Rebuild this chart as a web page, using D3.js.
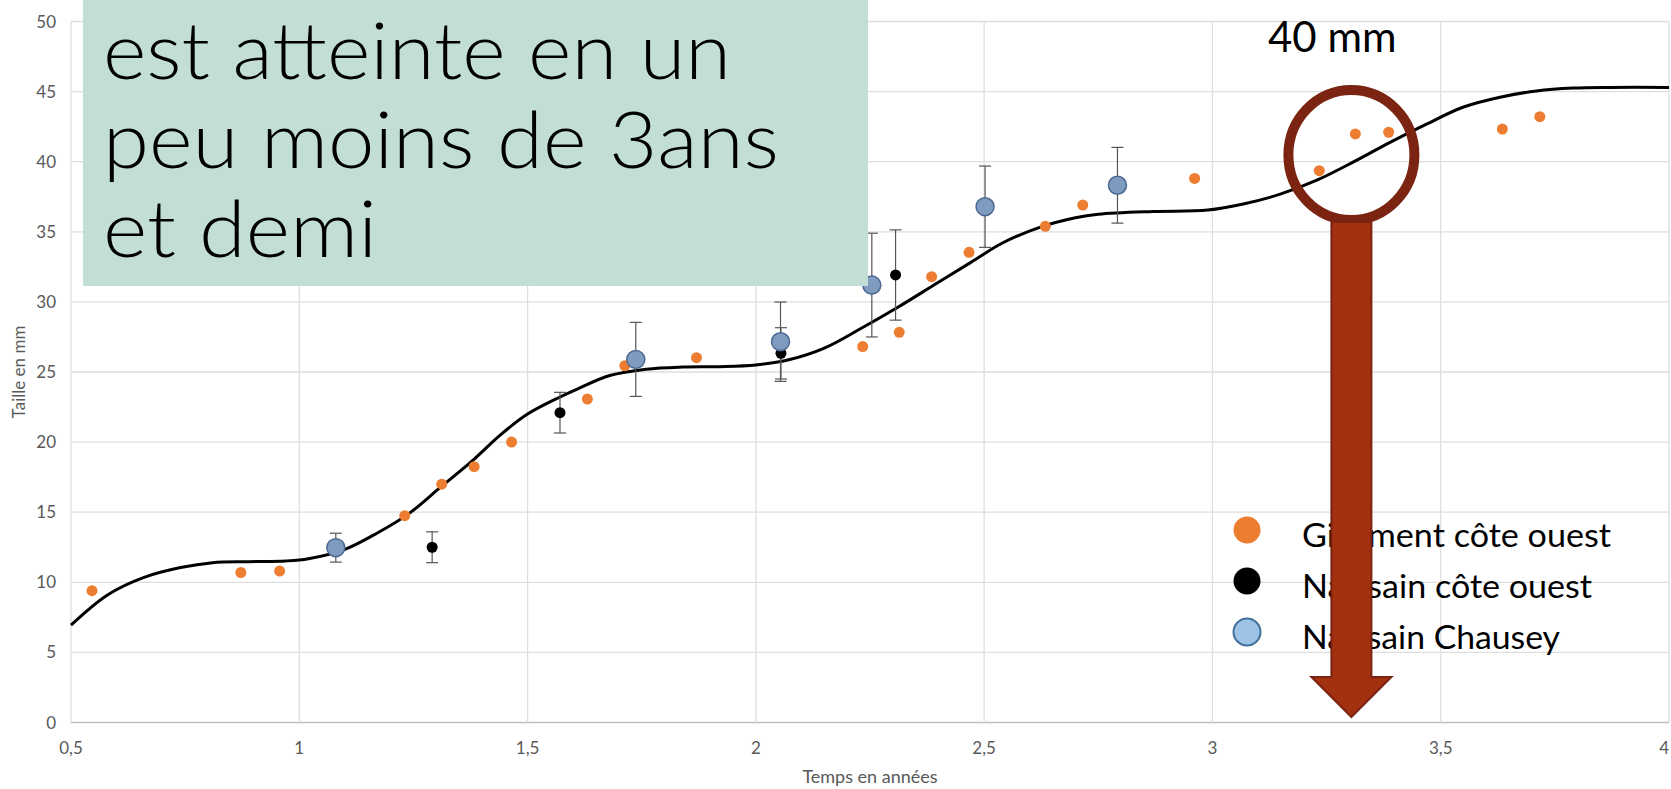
<!DOCTYPE html>
<html>
<head>
<meta charset="utf-8">
<script src="https://cdn.jsdelivr.net/npm/d3@7"></script>
<style>
body {margin: 0; background: #fff;}
svg {display: block;}
</style>
</head>
<body>
<div id="main"></div>
<script>
// Gisement côte ouest
var gisementAge = [0.546, 0.872, 0.957, 1.231, 1.312, 1.383, 1.465, 1.631, 1.713, 1.870, 2.234, 2.314,
    2.385, 2.467, 2.634, 2.716, 2.961, 3.234, 3.313, 3.386, 3.635, 3.717];
var gisementTaille = [9.4, 10.7, 10.8, 14.75, 17.0, 18.25, 20.0, 23.07, 25.45, 26.02, 26.81, 27.83,
    31.8, 33.54, 35.39, 36.91, 38.81, 39.36, 41.98, 42.1, 42.33, 43.21];

// Naissain côte ouest
var ouestAge = [1.291, 1.571, 2.055, 2.306];
var ouestTaille = [12.5, 22.1, 26.33, 31.92];
var ouestErr = [1.1, 1.45, 1.83, 3.22];

// Naissain Chausey
var chauseyAge = [1.080, 1.737, 2.054, 2.254, 2.502, 2.792];
var chauseyTaille = [12.47, 25.9, 27.16, 31.2, 36.79, 38.32];
var chauseyErr = [1.03, 2.64, 2.83, 3.7, 2.9, 2.7];

// courbe de croissance
var courbeAge = [0.50, 0.58, 0.66, 0.74, 0.81, 0.89, 0.97, 1.02, 1.10, 1.17, 1.24, 1.31, 1.38, 1.44,
    1.50, 1.57, 1.61, 1.68, 1.76, 1.84, 1.92, 2.00, 2.07, 2.15, 2.23, 2.31, 2.39, 2.47, 2.54, 2.62,
    2.70, 2.75, 2.87, 2.99, 3.07, 3.15, 3.23, 3.31, 3.39, 3.47, 3.55, 3.63, 3.71, 3.79, 3.87, 4.00];
var courbeTaille = [6.95, 9.1, 10.35, 11.05, 11.4, 11.47, 11.52, 11.68, 12.35, 13.5, 14.9, 16.8, 18.7, 20.5,
    22.0, 23.2, 23.8, 24.75, 25.2, 25.35, 25.38, 25.5, 25.85, 26.7, 28.1, 29.6, 31.2, 32.8, 34.2, 35.3,
    36.0, 36.25, 36.45, 36.55, 37.0, 37.7, 38.7, 40.0, 41.4, 42.7, 43.9, 44.6, 45.05, 45.25, 45.3, 45.3];

var xTicks = [0.5, 1, 1.5, 2, 2.5, 3, 3.5, 4];
var xTickLabels = ['0,5', '1', '1,5', '2', '2,5', '3', '3,5', '4'];
var yTicks = [0, 5, 10, 15, 20, 25, 30, 35, 40, 45, 50];

var legendLabels = ['Gisement côte ouest', 'Naissain côte ouest', 'Naissain Chausey'];
var boxLines = ['est atteinte en un', 'peu moins de 3ans', 'et demi'];
var noteText = '40 mm';
var noteAge = 3.3;   // repère entouré

var width = 1671, height = 789;
var margin = {top: 21.5, bottom: 66.5, left: 71, right: 2};
var font = 'Lato, "Open Sans", sans-serif';

var svg = d3.select('#main').append('svg')
    .attr('width', width)
    .attr('height', height);

var x = d3.scaleLinear()
    .domain([0.5, 4])
    .range([margin.left, width - margin.right]);
var y = d3.scaleLinear()
    .domain([0, 50])
    .range([height - margin.bottom, margin.top]);

// grid
svg.append('g').selectAll('line')
    .data(yTicks)
    .enter().append('line')
    .attr('x1', x(0.5)).attr('x2', x(4))
    .attr('y1', d => y(d)).attr('y2', d => y(d))
    .attr('stroke', d => d === 0 ? '#bfbfbf' : '#dedede')
    .attr('stroke-width', 1.3);
svg.append('g').selectAll('line')
    .data(xTicks)
    .enter().append('line')
    .attr('x1', d => x(d)).attr('x2', d => x(d))
    .attr('y1', y(0)).attr('y2', y(50))
    .attr('stroke', '#dedede')
    .attr('stroke-width', 1.3);

// tick labels
svg.append('g').selectAll('text')
    .data(yTicks)
    .enter().append('text')
    .attr('x', x(0.5) - 15)
    .attr('y', d => y(d) + 6)
    .attr('text-anchor', 'end')
    .attr('font-family', font)
    .attr('font-size', 17)
    .attr('fill', '#595959')
    .text(d => d);
svg.append('g').selectAll('text')
    .data(xTicks)
    .enter().append('text')
    .attr('x', d => x(d))
    .attr('y', y(0) + 31)
    .attr('text-anchor', d => d === 4 ? 'end' : 'middle')
    .attr('font-family', font)
    .attr('font-size', 17)
    .attr('fill', '#595959')
    .text((d, i) => xTickLabels[i]);

svg.append('text')
    .attr('x', (x(0.5) + x(4)) / 2)
    .attr('y', 783)
    .attr('text-anchor', 'middle')
    .attr('font-family', font)
    .attr('font-size', 18)
    .attr('fill', '#595959')
    .text('Temps en années');
svg.append('text')
    .attr('transform', 'translate(25,' + ((y(0) + y(50)) / 2) + ') rotate(-90)')
    .attr('text-anchor', 'middle')
    .attr('font-family', font)
    .attr('font-size', 17)
    .attr('fill', '#595959')
    .text('Taille en mm');

// growth curve
var line = d3.line()
    .x(d => x(d[0]))
    .y(d => y(d[1]))
    .curve(d3.curveCatmullRom.alpha(0.5));
svg.append('path')
    .datum(courbeAge.map((a, i) => [a, courbeTaille[i]]))
    .attr('d', line)
    .attr('fill', 'none')
    .attr('stroke', '#000')
    .attr('stroke-width', 3);

// error bars
function errorBars(ages, tailles, errs){
    var g = svg.append('g')
        .attr('stroke', '#555')
        .attr('stroke-width', 1.2);
    var data = ages.map((a, i) => ({a: a, v: tailles[i], e: errs[i]}));
    g.selectAll('.bar').data(data).enter().append('line')
        .attr('x1', d => x(d.a)).attr('x2', d => x(d.a))
        .attr('y1', d => y(d.v - d.e)).attr('y2', d => y(d.v + d.e));
    g.selectAll('.capHi').data(data).enter().append('line')
        .attr('x1', d => x(d.a) - 6).attr('x2', d => x(d.a) + 6)
        .attr('y1', d => y(d.v + d.e)).attr('y2', d => y(d.v + d.e));
    g.selectAll('.capLo').data(data).enter().append('line')
        .attr('x1', d => x(d.a) - 6).attr('x2', d => x(d.a) + 6)
        .attr('y1', d => y(d.v - d.e)).attr('y2', d => y(d.v - d.e));
}
errorBars(ouestAge, ouestTaille, ouestErr);
errorBars(chauseyAge, chauseyTaille, chauseyErr);

function points(ages, tailles, r, fill, stroke){
    svg.append('g').selectAll('circle')
        .data(ages)
        .enter().append('circle')
        .attr('cx', d => x(d))
        .attr('cy', (d, i) => y(tailles[i]))
        .attr('r', r)
        .attr('fill', fill)
        .attr('stroke', stroke)
        .attr('stroke-width', 1.5);
}
points(gisementAge, gisementTaille, 5.5, '#ed7d31', 'none');
points(ouestAge, ouestTaille, 5.5, '#000', 'none');
points(chauseyAge, chauseyTaille, 9, '#7f9bbf', '#4a6890');

// text box
var box = svg.append('g');
box.append('rect')
    .attr('x', 83).attr('y', 0)
    .attr('width', 785).attr('height', 286)
    .attr('fill', '#c3dfd5');
box.selectAll('text')
    .data(boxLines)
    .enter().append('text')
    .attr('x', 103)
    .attr('y', (d, i) => 79 + i * 89)
    .attr('font-family', font)
    .attr('font-weight', 300)
    .attr('font-size', 78)
    .attr('fill', '#000')
    .attr('textLength', (d, i) => [628, 676, 274][i])
    .attr('lengthAdjust', 'spacingAndGlyphs')
    .text(d => d);

// legend
var legend = svg.append('g')
    .attr('transform', 'translate(1247,530)');
var legendStyles = [
    {fill: '#ed7d31', stroke: 'none'},
    {fill: '#000', stroke: 'none'},
    {fill: '#9dc3e6', stroke: '#41719c'}];
legend.selectAll('circle')
    .data(legendStyles)
    .enter().append('circle')
    .attr('cx', 0)
    .attr('cy', (d, i) => i * 51)
    .attr('r', 13.5)
    .attr('fill', d => d.fill)
    .attr('stroke', d => d.stroke)
    .attr('stroke-width', 2);
legend.selectAll('text')
    .data(legendLabels)
    .enter().append('text')
    .attr('x', 55)
    .attr('y', (d, i) => 17 + i * 51)
    .attr('font-family', font)
    .attr('font-size', 33)
    .attr('fill', '#000')
    .attr('textLength', (d, i) => [309, 290, 258][i])
    .attr('lengthAdjust', 'spacingAndGlyphs')
    .text(d => d);

// annotation: circle, arrow and 40 mm
var cx = x(noteAge) + 2;
svg.append('text')
    .attr('x', 1268)
    .attr('y', 52)
    .attr('font-family', font)
    .attr('font-size', 42)
    .attr('fill', '#000')
    .text(noteText);
svg.append('ellipse')
    .attr('cx', cx).attr('cy', 155)
    .attr('rx', 63).attr('ry', 65)
    .attr('fill', 'none')
    .attr('stroke', '#7b2411')
    .attr('stroke-width', 10);
var arrow = d3.path();
arrow.moveTo(cx - 20, 222);
arrow.lineTo(cx + 20, 222);
arrow.lineTo(cx + 20, 677);
arrow.lineTo(cx + 40, 677);
arrow.lineTo(cx, 717);
arrow.lineTo(cx - 40, 677);
arrow.lineTo(cx - 20, 677);
arrow.closePath();
svg.append('path')
    .attr('d', arrow.toString())
    .attr('fill', '#a3300f')
    .attr('stroke', '#7b2411')
    .attr('stroke-width', 2);
</script>
</body>
</html>
